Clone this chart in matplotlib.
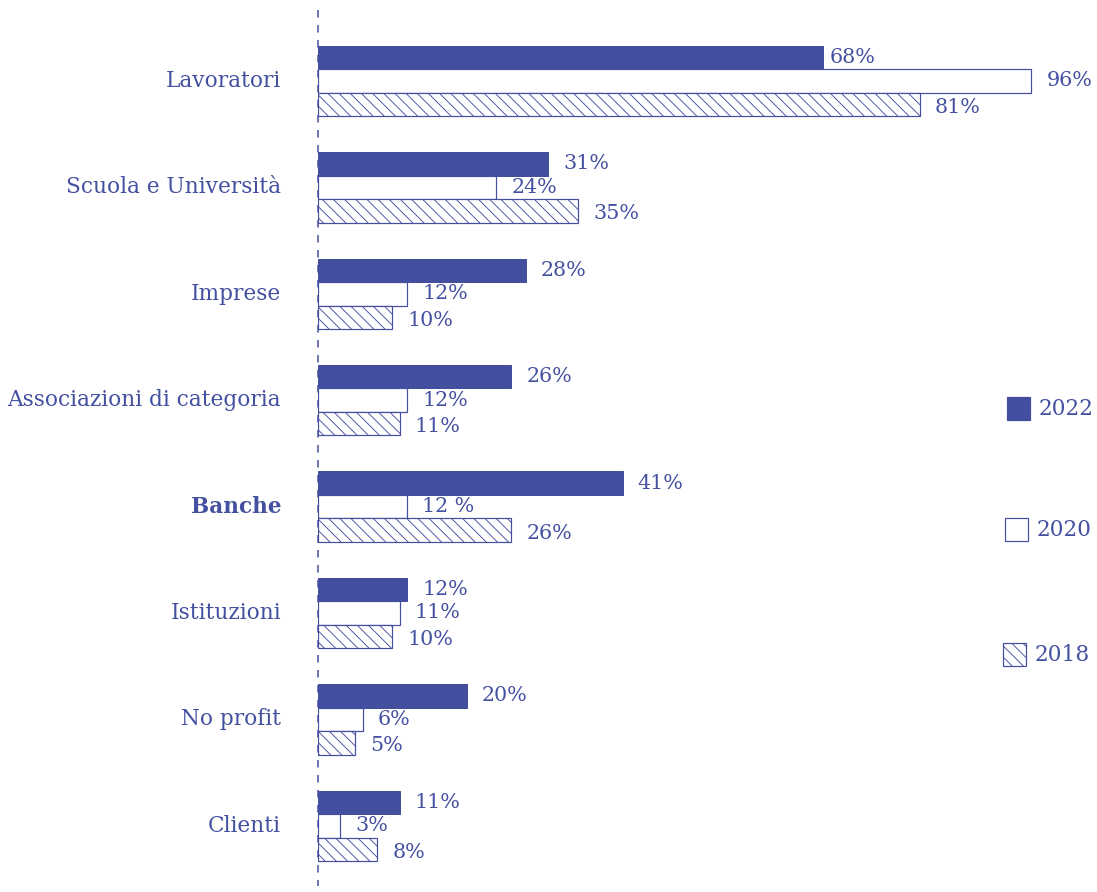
import matplotlib
matplotlib.use("Agg")
import matplotlib.pyplot as plt
from matplotlib.patches import Rectangle
from matplotlib.transforms import offset_copy

categories = ["Lavoratori", "Scuola e Università", "Imprese", "Associazioni di categoria",
              "Banche", "Istituzioni", "No profit", "Clienti"]
v2022 = [68, 31, 28, 26, 41, 12, 20, 11]
v2020 = [96, 24, 12, 12, 12, 11, 6, 3]
v2018 = [81, 35, 10, 11, 26, 10, 5, 8]
lab2022 = ["68%", "31%", "28%", "26%", "41%", "12%", "20%", "11%"]
lab2020 = ["96%", "24%", "12%", "12%", "12 %", "11%", "6%", "3%"]
lab2018 = ["81%", "35%", "10%", "11%", "26%", "10%", "5%", "8%"]
years = ["2022", "2020", "2018"]

W, H = 1097, 892
DPI = 67
PT = 72.0 / DPI  # points per pixel

BLUE = "#434e9f"
TXT = "#4450a0"
plt.rcParams["font.family"] = ["DejaVu Serif"]
plt.rcParams["hatch.linewidth"] = 0.9 * PT
plt.rcParams["hatch.color"] = BLUE

fig = plt.figure(figsize=(W / DPI, H / DPI), dpi=DPI)
ax = fig.add_axes([318 / W, 0, 743 / W, 1])
ax.set_xlim(0, 100)
ax.set_ylim((H - 81) / 106.4, -81 / 106.4)
ax.axis("off")

bh = 23.5 / 106.4
FS_CAT = 21.6 * PT
FS_VAL = 20.6 * PT
idx = list(range(len(categories)))

ax.barh([i - bh for i in idx], v2022, height=bh, color=BLUE, edgecolor=BLUE, linewidth=1 * PT, zorder=3)
ax.barh(idx, v2020, height=bh, color="white", edgecolor=BLUE, linewidth=1.2 * PT, zorder=3)
ax.barh([i + bh for i in idx], v2018, height=bh, color="white", edgecolor=BLUE, hatch="\\\\",
        linewidth=1.2 * PT, zorder=3)

# dashed baseline
ax.plot([0, 0], [-81 / 106.4 + 10 / 106.4, (H - 81) / 106.4 - 6 / 106.4], color=BLUE,
        linewidth=1.5 * PT, dashes=(5, 5), zorder=2, clip_on=False)

for i in idx:
    for off, val, lab, dy in [(-bh, v2022[i], lab2022[i], 0), (0, v2020[i], lab2020[i], 0),
                              (bh, v2018[i], lab2018[i], -3)]:
        dx = 6 if (i == 0 and off < 0) else 15
        tr = offset_copy(ax.transData, fig=fig, x=dx, y=dy, units="dots")
        ax.text(val, i + off, lab, transform=tr, ha="left", va="center", color=TXT,
                fontsize=FS_VAL, zorder=4)

cat_tr = offset_copy(ax.transData, fig=fig, x=-37, y=0, units="dots")
for i, c in enumerate(categories):
    ax.text(0, i, c, transform=cat_tr, ha="right", va="center", color=TXT, fontsize=FS_CAT,
            fontweight="bold" if c == "Banche" else "normal")

# legend
boxes = [(1007, 397), (1005, 518), (1003, 643)]
styles = [dict(facecolor=BLUE, edgecolor=BLUE), dict(facecolor="white", edgecolor=BLUE),
          dict(facecolor="white", edgecolor=BLUE, hatch="\\\\")]
for (bx, by), st, yr in zip(boxes, styles, years):
    r = Rectangle((bx / W, 1 - (by + 23) / H), 23 / W, 23 / H, transform=fig.transFigure,
                  linewidth=1.2 * PT, **st)
    fig.add_artist(r)
    fig.text((bx + 32) / W, 1 - (by + 12) / H, yr, ha="left", va="center", color=TXT, fontsize=FS_CAT)

fig.savefig("out.png", dpi=DPI, facecolor="white")
